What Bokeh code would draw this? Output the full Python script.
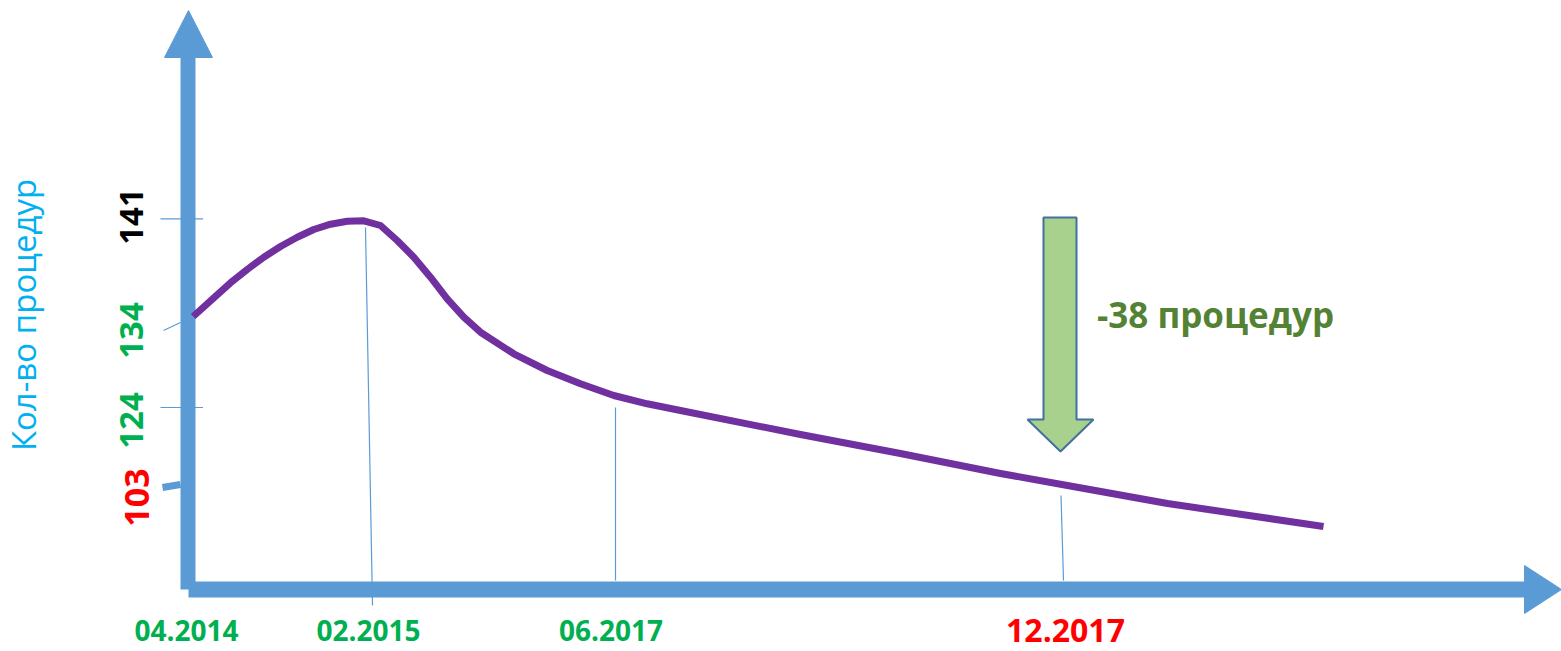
import math
from bokeh.plotting import figure
from bokeh.models import Range1d, ColumnDataSource
from bokeh.core.properties import value
from bokeh.embed import file_html
from bokeh.resources import INLINE

# ---- schematic data (origin = axis crossing; x = time position, y = level) ----
curve_x = [5.2, 25.8, 42.5, 59.2, 75.8, 92.5, 109.2, 125.8, 142.5, 159.2, 175.8, 192.5,
           209.2, 225.8, 242.5, 259.2, 275.8, 292.5, 325.8, 359.2, 392.5, 425.8, 459.2,
           492.5, 612.5, 712.5, 812.5, 879.5, 979.5, 1135.5]
curve_y = [273, 291.7, 306.7, 320, 332.3, 343, 352.3, 360, 365.3, 368.3, 368.7, 364,
           349, 332.3, 312.3, 290.7, 272.3, 257.3, 235.7, 219, 205.7, 194, 185.7,
           179, 155, 136, 116, 104, 86, 63]

x_labels = ["04.2014", "02.2015", "06.2017", "12.2017"]
x_label_pos = [-1.5, 180.5, 423, 877.5]
x_label_colors = ["#00B050", "#00B050", "#00B050", "#FF0000"]
x_label_sizes = ["28px", "28px", "28px", "32px"]

y_labels = ["141", "134", "124", "103"]
y_label_pos = [373, 259, 169, 92]
y_label_colors = ["#000000", "#00B050", "#00B050", "#FF0000"]
y_label_sizes = ["33px", "33px", "33px", "34px"]
y_label_x = [-56.5, -56.5, -56.5, -51.5]

# drop lines from curve to time axis
drop_x0 = [177.5, 427.5, 873]
drop_y0 = [362, 182, 94]
drop_x1 = [184.5, 427.5, 875.5]
drop_y1 = [-16, 9, 9]

# level ticks on the vertical axis
tick_x0 = [-27.5, -24.5, -27.5]
tick_y0 = [370.7, 259, 182]
tick_x1 = [15, -7.5, 15]
tick_y1 = [370.7, 267, 182]

# green "decrease" arrow
arrow_x = [855.5, 888.5, 888.5, 905.5, 872.5, 839.5, 855.5]
arrow_y = [372, 372, 170, 170, 138, 170, 170]
note_text = "-38 процедур"
y_title = "Кол-во процедур"

AXIS = "#5B9BD5"

p = figure(width=1561, height=651,
           x_range=Range1d(-187.5, 1373.5), y_range=Range1d(-62, 589),
           output_backend="svg", toolbar_location=None, min_border=0,
           x_axis_type=None, y_axis_type=None)
p.outline_line_color = None
p.background_fill_color = "white"
p.border_fill_color = "white"

# axes
p.line([0, 0], [0, 532], line_width=15, line_color=AXIS, line_cap="butt")
p.patch([-23.5, 24.5, 0.5], [532, 532, 579], fill_color=AXIS, line_color=AXIS, line_width=1)
p.line([0.5, 1336.5], [0, 0], line_width=16, line_color=AXIS, line_cap="butt")
p.patch([1336.5, 1336.5, 1373.5], [24, -24, 0], fill_color=AXIS, line_color=AXIS, line_width=1)

# thin ticks and drop lines
p.segment(tick_x0, tick_y0, tick_x1, tick_y1, line_color=AXIS, line_width=1.2)
p.segment(drop_x0, drop_y0, drop_x1, drop_y1, line_color=AXIS, line_width=1.2)
p.segment([-25.5], [102], [-7.5], [105], line_color=AXIS, line_width=7, line_cap="butt")

# curve
p.line(curve_x, curve_y, line_color="#7030A0", line_width=7, line_join="round", line_cap="butt")

# arrow
p.patch(arrow_x, arrow_y, fill_color="#A9D18E", line_color="#41719C", line_width=2)

# labels
xs = ColumnDataSource(dict(x=x_label_pos, y=[-41] * 4, t=x_labels, c=x_label_colors, s=x_label_sizes))
p.text(x="x", y="y", text="t", source=xs, text_color="c", text_font_size="s",
       text_font=value("Open Sans"), text_font_style="bold",
       text_align="center", text_baseline="alphabetic")

ys = ColumnDataSource(dict(x=y_label_x, y=y_label_pos, t=y_labels, c=y_label_colors, s=y_label_sizes))
p.text(x="x", y="y", text="t", source=ys, text_color="c", text_font_size="s",
       angle=math.pi / 2, text_font=value("Open Sans"), text_font_style="bold",
       text_align="center", text_baseline="alphabetic")

p.text(x=[-164.5], y=[274.5], text=[y_title], angle=math.pi / 2,
       text_color="#00B0F0", text_font_size="33px", text_font=value("Open Sans"),
       text_align="center", text_baseline="alphabetic")

p.text(x=[909], y=[275], text=[note_text], text_color="#548235", text_font_size="35px",
       text_font=value("Open Sans"), text_font_style="bold",
       text_align="left", text_baseline="alphabetic")

open("out.html", "w").write(file_html(p, INLINE))
